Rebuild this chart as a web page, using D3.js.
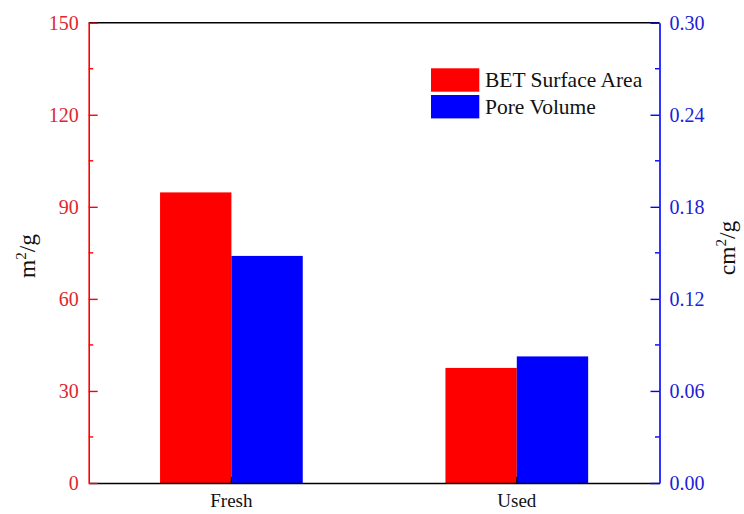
<!DOCTYPE html>
<html>
<head>
<meta charset="utf-8">
<script src="https://cdn.jsdelivr.net/npm/d3@7"></script>
<style>
  html, body { margin: 0; padding: 0; background: #fff; }
  svg { display: block; font-family: "Liberation Serif", "Times New Roman", serif; }
</style>
</head>
<body>
<svg id="chart" width="744" height="514"></svg>
<script>
// Sample categories and the two measured quantities
const categories = ["Fresh", "Used"];
const surfaceArea = [94.7, 37.5];      // m²/g, left axis
const poreVolume = [0.148, 0.0825];    // cm²/g, right axis
const leftTicks = [0, 30, 60, 90, 120, 150];
const rightTicks = [0, 0.06, 0.12, 0.18, 0.24, 0.30];
const seriesNames = ["BET Surface Area", "Pore Volume"];
const seriesColors = ["#ff0000", "#0000ff"];

const svg = d3.select("#chart");
const x0 = 88.7, x1 = 659.5, yTop = 22.7, yBot = 483;

const x = d3.scaleBand().domain(categories).range([x0, x1])
  .paddingInner(0.5).paddingOuter(0.25);
const yL = d3.scaleLinear().domain([0, 150]).range([yBot, yTop]);
const yR = d3.scaleLinear().domain([0, 0.30]).range([yBot, yTop]);
const half = x.bandwidth() / 2;

// Bars
const g = svg.append("g");
g.selectAll("rect.area").data(categories).join("rect")
  .attr("x", d => x(d))
  .attr("width", half)
  .attr("y", (d, i) => yL(surfaceArea[i]))
  .attr("height", (d, i) => yBot - yL(surfaceArea[i]))
  .attr("fill", seriesColors[0]);
g.selectAll("rect.pore").data(categories).join("rect")
  .attr("x", d => x(d) + half)
  .attr("width", half)
  .attr("y", (d, i) => yR(poreVolume[i]))
  .attr("height", (d, i) => yBot - yR(poreVolume[i]))
  .attr("fill", seriesColors[1]);

// Frame: top edge in black
svg.append("line").attr("x1", x0).attr("x2", x1).attr("y1", yTop).attr("y2", yTop)
  .attr("stroke", "#000").attr("stroke-width", 1.6);

// Bottom axis with inward ticks at category centres
const xAxis = svg.append("g").attr("transform", `translate(0,${yBot})`)
  .call(d3.axisBottom(x).tickSize(-6).tickSizeOuter(0).tickPadding(0));
xAxis.select(".domain").attr("stroke", "#000").attr("stroke-width", 1.6);
xAxis.selectAll(".tick line").attr("stroke-width", 1.4);
xAxis.selectAll(".tick text").attr("y", 23.5).attr("dy", 0).attr("font-size", 19)
  .attr("font-family", "Liberation Serif").attr("fill", "#111");

// Minor tick values between labelled ticks
const leftMinor = d3.range(15, 150, 30);
const rightMinor = d3.range(0.03, 0.30, 0.06);

// Left axis (red)
const lAx = svg.append("g").attr("transform", `translate(${x0},0)`)
  .call(d3.axisLeft(yL).tickValues(leftTicks).tickSize(-9).tickSizeOuter(0).tickPadding(10)
    .tickFormat(d3.format("d")));
lAx.select(".domain").attr("stroke", "#ff0000").attr("stroke-width", 1.6);
lAx.selectAll(".tick line").attr("stroke", "#ff0000").attr("stroke-width", 1.4);
lAx.selectAll(".tick text").attr("fill", "#e0262c").attr("font-size", 20)
  .attr("font-family", "Liberation Serif");
svg.append("g").attr("transform", `translate(${x0},0)`)
  .selectAll("line").data(leftMinor).join("line")
  .attr("x1", 0).attr("x2", 4.5).attr("y1", d => yL(d)).attr("y2", d => yL(d))
  .attr("stroke", "#ff0000").attr("stroke-width", 1.4);

// Right axis (blue)
const rAx = svg.append("g").attr("transform", `translate(${x1},0)`)
  .call(d3.axisRight(yR).tickValues(rightTicks).tickSize(-9).tickSizeOuter(0).tickPadding(10)
    .tickFormat(d3.format(".2f")));
rAx.select(".domain").attr("stroke", "#0000ff").attr("stroke-width", 1.6);
rAx.selectAll(".tick line").attr("stroke", "#0000ff").attr("stroke-width", 1.4);
rAx.selectAll(".tick text").attr("fill", "#2020d8").attr("font-size", 20)
  .attr("font-family", "Liberation Serif");
svg.append("g").attr("transform", `translate(${x1},0)`)
  .selectAll("line").data(rightMinor).join("line")
  .attr("x1", 0).attr("x2", -4.5).attr("y1", d => yR(d)).attr("y2", d => yR(d))
  .attr("stroke", "#0000ff").attr("stroke-width", 1.4);

// Axis titles
function unitTitle(xPos, yPos, base) {
  const t = svg.append("text")
    .attr("transform", `translate(${xPos},${yPos}) rotate(-90)`)
    .attr("text-anchor", "middle").attr("font-size", 23.5).attr("fill", "#111");
  t.append("tspan").text(base);
  t.append("tspan").text("2").attr("font-size", 15).attr("dy", -9);
  t.append("tspan").text("/g").attr("dy", 9);
}
unitTitle(35, 256, "m");
unitTitle(735, 248, "cm");

// Legend
const legend = svg.append("g").attr("transform", "translate(431,68.3)");
seriesNames.forEach((name, i) => {
  const row = legend.append("g").attr("transform", `translate(0,${i * 26.7})`);
  row.append("rect").attr("width", 48.3).attr("height", 23.4).attr("fill", seriesColors[i]);
  row.append("text").attr("x", 54).attr("y", 19).attr("font-size", 21.5)
    .attr("fill", "#111").text(name);
});
</script>
</body>
</html>
